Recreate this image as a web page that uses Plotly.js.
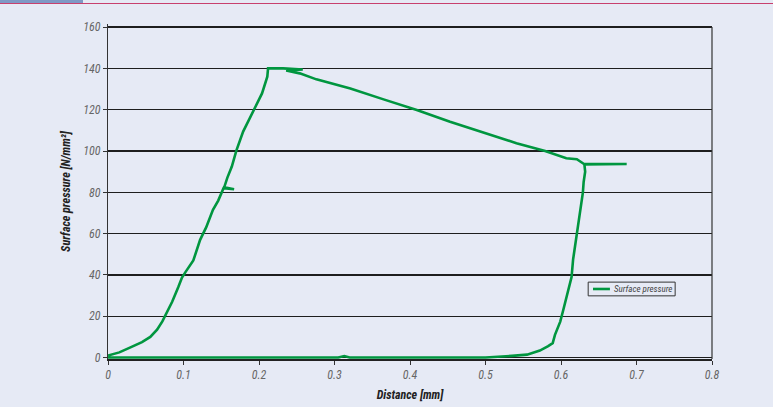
<!DOCTYPE html>
<html>
<head>
<meta charset="utf-8">
<script src="https://cdn.plot.ly/plotly-3.0.1.min.js"></script>
<style>
  html, body { margin: 0; padding: 0; background: #ffffff; }
  #wrap { position: relative; width: 775px; height: 407px; overflow: hidden; }
  #chart { position: absolute; left: 0; top: 0; width: 773px; height: 407px; }
  #bluebar { position: absolute; left: 0; top: 0; width: 83px; height: 3px; background: #7f99c5; z-index: 5; }
  #redline { position: absolute; left: 0; top: 3px; width: 773px; height: 1px; background: #c8406e; z-index: 5; }
</style>
</head>
<body>
<div id="wrap">
  <div id="chart"></div>
  <div id="bluebar"></div>
  <div id="redline"></div>
</div>
<script>
// Data (distance in mm, pressure in N/mm²), in drawing order
var distance = [0, 0.015, 0.029, 0.045, 0.056, 0.065, 0.072, 0.078, 0.085, 0.093, 0.098, 0.103, 0.113, 0.122, 0.130, 0.139, 0.146, 0.153, 0.167, 0.154, 0.158, 0.164, 0.170, 0.179, 0.193, 0.204, 0.211, 0.212, 0.232, 0.258, 0.236, 0.254, 0.276, 0.321, 0.365, 0.409, 0.453, 0.502, 0.541, 0.579, 0.607, 0.621, 0.630, 0.687, 0.631, 0.632, 0.630, 0.629, 0.626, 0.624, 0.620, 0.616, 0.614, 0.608, 0.603, 0.599, 0.595, 0.592, 0.589, 0.583, 0.572, 0.555, 0.535, 0.515, 0.500, 0.320, 0.313, 0.305, 0];
var pressure = [1, 2.5, 4.8, 7.5, 10, 13.5, 17.5, 21.7, 27, 34, 38.7, 41.6, 47, 57, 63, 71.5, 76, 82, 81.5, 82.5, 87, 92.5, 100.2, 109.4, 119.9, 127.9, 136, 140, 140, 139.5, 139, 137.6, 134.7, 130.3, 125, 119.9, 114.2, 108.6, 103.8, 100, 96.5, 96, 93.8, 93.7, 93.5, 90, 85, 80, 72, 66.7, 57, 47.4, 39, 31, 23, 17.4, 13.5, 11, 7, 5.5, 3.4, 1.4, 0.8, 0.5, 0, 0, 0.7, 0, 0];
var seriesName = "Surface pressure";
var xTickValues = [0, 0.1, 0.2, 0.3, 0.4, 0.5, 0.6, 0.7, 0.8];
var xTickLabels = ["0", "0.1", "0.2", "0.3", "0.4", "0.5", "0.6", "0.7", "0.8"];
var yTickValues = [0, 20, 40, 60, 80, 100, 120, 140, 160];
var yMax = 160;
var xTitle = "Distance [mm]";
var yTitle = "Surface pressure [N/mm²]";

var FONT = "'Liberation Sans Narrow', 'Arial Narrow', 'Roboto Condensed', 'DejaVu Sans Condensed', sans-serif";
var BG = "#e6eaf5";
var GREEN = "#00963f";

var trace = {
  x: distance,
  y: pressure,
  type: "scatter",
  mode: "lines",
  name: seriesName,
  line: { color: GREEN, width: 2.6 },
  showlegend: false
};

// Compact boxed legend (matches the small framed key of the original)
var legX0 = 0.795, legX1 = 0.939, legYm = 0.209, legH = 0.0205;

var layout = {
  width: 773,
  height: 407,
  paper_bgcolor: BG,
  plot_bgcolor: BG,
  margin: { l: 108, r: 61, t: 24, b: 47.5, pad: 0 },
  font: { family: FONT, size: 12, color: "#555", style: "italic" },
  showlegend: false,
  xaxis: {
    range: [0, 0.8],
    tickvals: xTickValues,
    ticktext: xTickLabels,
    ticks: "outside", ticklen: 4, tickwidth: 1, tickcolor: "#333",
    showgrid: false, zeroline: false,
    showline: true, linecolor: "#222", linewidth: 1.5, mirror: false,
    tickfont: { family: FONT, size: 12, color: "#666", style: "italic" },
    title: { text: xTitle, standoff: 9, font: { family: FONT, size: 12, color: "#222", weight: "bold", style: "italic" } }
  },
  yaxis: {
    range: [-0.7, 161.5],
    tickvals: yTickValues,
    ticks: "outside", ticklen: 4, tickwidth: 1, tickcolor: "#333",
    showgrid: true, gridcolor: "#1e1e1e", gridwidth: 1.5,
    zeroline: false,
    showline: true, linecolor: "#333", linewidth: 1.2, mirror: false,
    tickfont: { family: FONT, size: 12, color: "#666", style: "italic" },
    title: { text: yTitle, standoff: 10, font: { family: FONT, size: 12, color: "#222", weight: "bold", style: "italic" } }
  },
  shapes: [
    { type: "line", xref: "paper", yref: "y", x0: 1, x1: 1, y0: -0.7, y1: yMax, layer: "above",
      line: { color: "#333", width: 1.2 } },
    { type: "rect", xref: "paper", yref: "paper", x0: legX0, x1: legX1, y0: legYm - legH, y1: legYm + legH,
      line: { color: "#333", width: 1 }, fillcolor: "rgba(0,0,0,0)" },
    { type: "line", xref: "paper", yref: "paper", x0: legX0 + 0.008, x1: legX0 + 0.036, y0: legYm, y1: legYm,
      line: { color: GREEN, width: 2.6 } }
  ],
  annotations: [
    { xref: "paper", yref: "paper", x: legX0 + 0.039, y: legYm, xanchor: "left", yanchor: "middle",
      text: seriesName, showarrow: false,
      font: { family: FONT, size: 9, color: "#444", style: "italic" } }
  ]
};

Plotly.newPlot("chart", [trace], layout, { displayModeBar: false, staticPlot: true });
</script>
</body>
</html>
